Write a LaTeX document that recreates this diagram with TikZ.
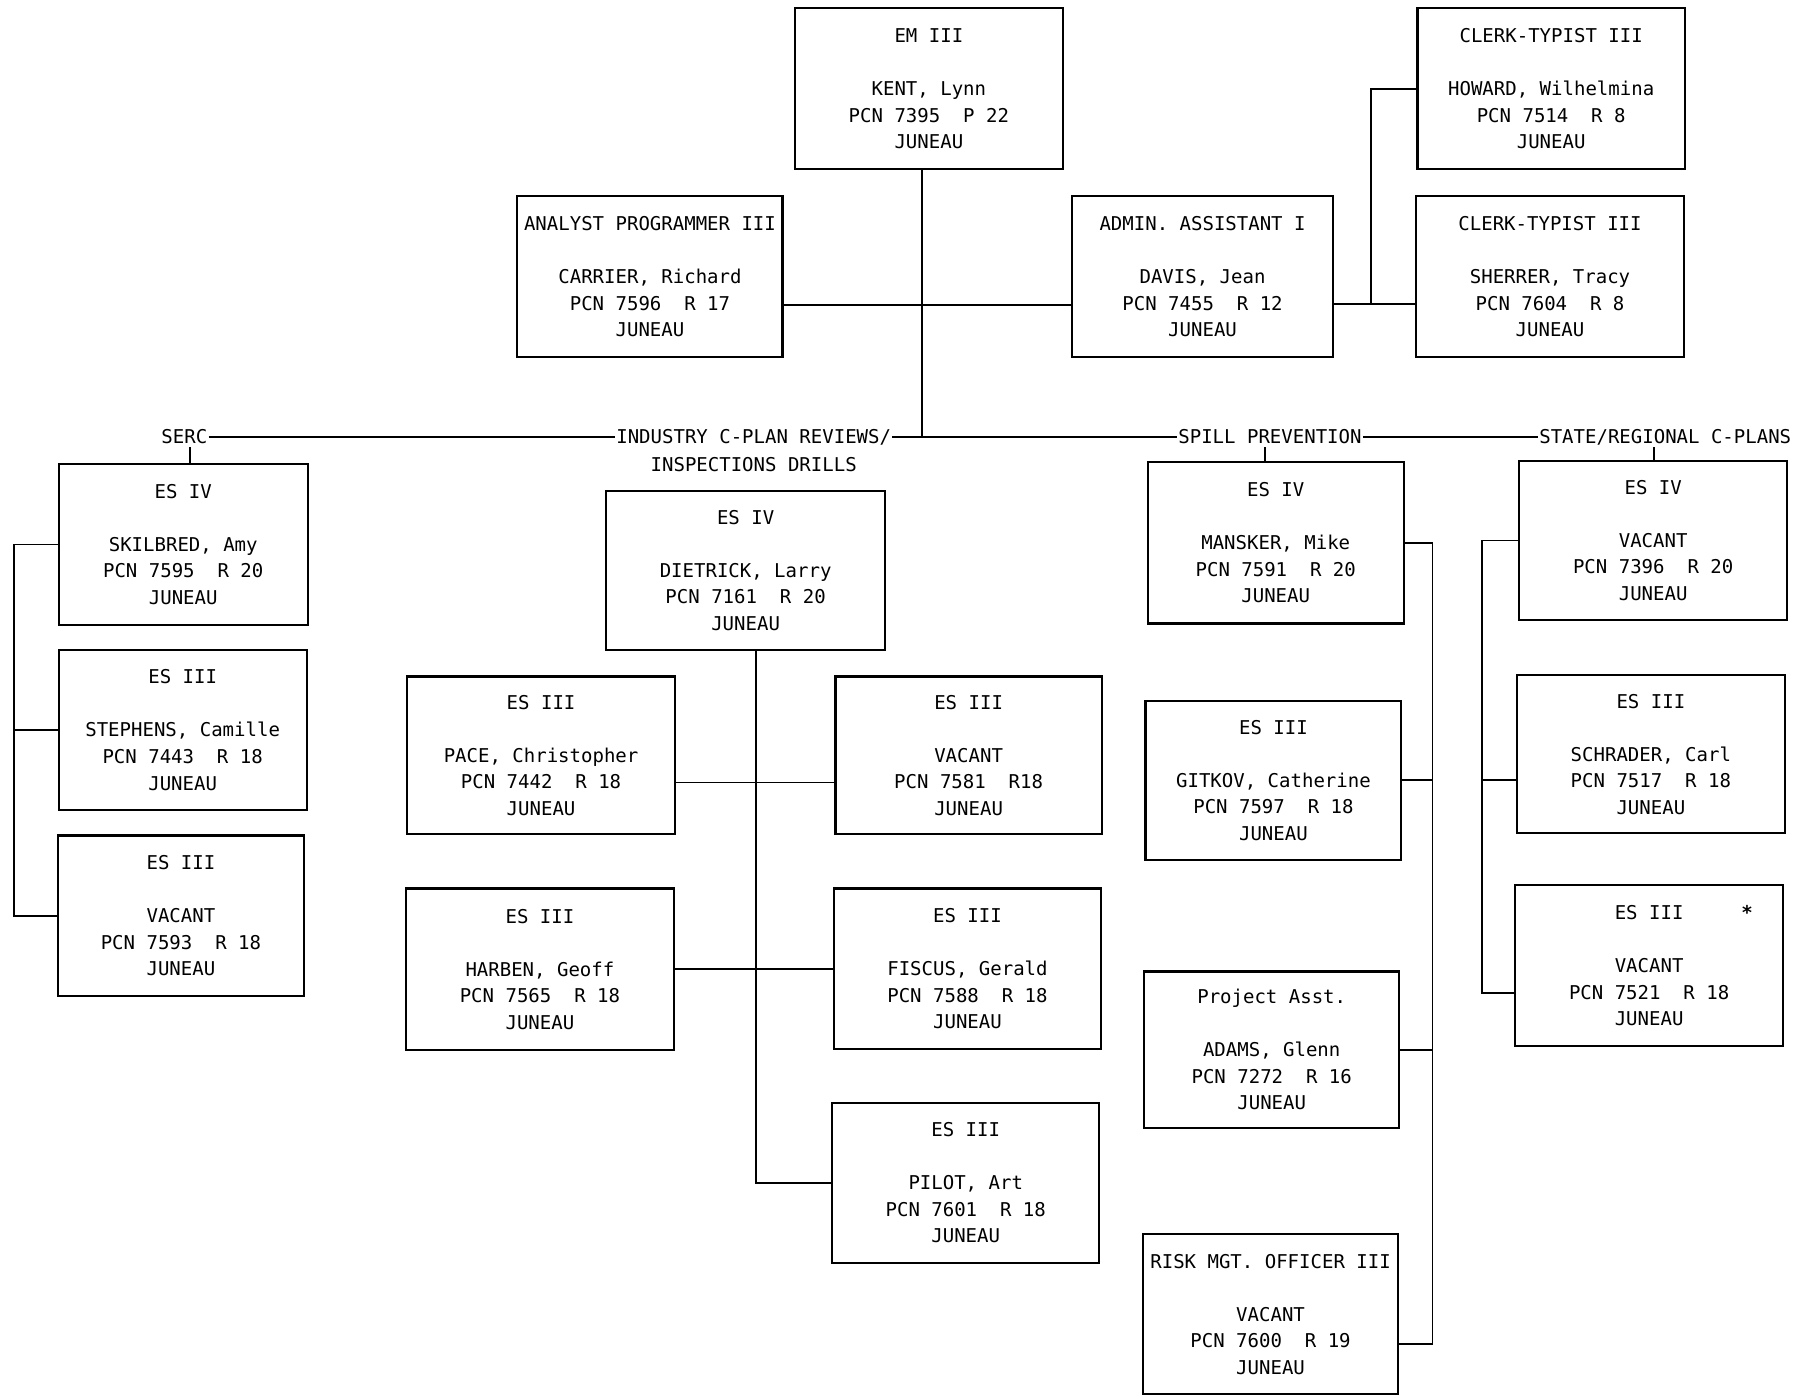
\documentclass[tikz,border=0pt]{standalone}
\usepackage{fontspec}
\setmainfont{DejaVu Sans Mono}
\begin{document}
\begin{tikzpicture}[x=1pt,y=-1pt,
  box/.style={draw, line width=1.8pt, inner sep=0pt, align=center, font=\fontsize{16.5}{23}\selectfont},
  lbl/.style={inner sep=1pt, font=\fontsize{16.5}{23}\selectfont, text height=12pt, text depth=0pt},
  conn/.style={line width=1.6pt}]
\useasboundingbox[fill=white] (0,0) rectangle (1568,1212);

% top
\node[box, minimum width=232, minimum height=140] (em)  at (806,77)   {EM III\\[23pt]KENT, Lynn\\PCN 7395~~P 22\\JUNEAU};
\node[box, minimum width=230, minimum height=140] (ana) at (564,240)  {ANALYST PROGRAMMER III\\[23pt]CARRIER, Richard\\PCN 7596~~R 17\\JUNEAU};
\node[box, minimum width=227, minimum height=140] (adm) at (1043.5,240) {ADMIN. ASSISTANT I\\[23pt]DAVIS, Jean\\PCN 7455~~R 12\\JUNEAU};
\node[box, minimum width=232, minimum height=140] (how) at (1346,77)  {CLERK-TYPIST III\\[23pt]HOWARD, Wilhelmina\\PCN 7514~~R 8\\JUNEAU};
\node[box, minimum width=232, minimum height=140] (she) at (1345,240) {CLERK-TYPIST III\\[23pt]SHERRER, Tracy\\PCN 7604~~R 8\\JUNEAU};

% SERC
\node[box, minimum width=216, minimum height=139] (ski) at (159,472.5) {ES IV\\[23pt]SKILBRED, Amy\\PCN 7595~~R 20\\JUNEAU};
\node[box, minimum width=215, minimum height=139] (ste) at (158.5,633.5) {ES III\\[23pt]STEPHENS, Camille\\PCN 7443~~R 18\\JUNEAU};
\node[box, minimum width=214, minimum height=139] (v93) at (157,794.5) {ES III\\[23pt]VACANT\\PCN 7593~~R 18\\JUNEAU};

% Industry
\node[box, minimum width=242, minimum height=138] (die) at (647,495) {ES IV\\[23pt]DIETRICK, Larry\\PCN 7161~~R 20\\JUNEAU};
\node[box, minimum width=233, minimum height=137] (pac) at (469.5,655.5) {ES III\\[23pt]PACE, Christopher\\PCN 7442~~R 18\\JUNEAU};
\node[box, minimum width=231, minimum height=137] (v81) at (840.5,655.5) {ES III\\[23pt]VACANT\\PCN 7581~~R18\\JUNEAU};
\node[box, minimum width=233, minimum height=140] (har) at (468.5,841) {ES III\\[23pt]HARBEN, Geoff\\PCN 7565~~R 18\\JUNEAU};
\node[box, minimum width=231, minimum height=139] (fis) at (839.5,840.5) {ES III\\[23pt]FISCUS, Gerald\\PCN 7588~~R 18\\JUNEAU};
\node[box, minimum width=232, minimum height=139] (pil) at (838,1026.5) {ES III\\[23pt]PILOT, Art\\PCN 7601~~R 18\\JUNEAU};

% Spill
\node[box, minimum width=222, minimum height=140] (man) at (1107,471) {ES IV\\[23pt]MANSKER, Mike\\PCN 7591~~R 20\\JUNEAU};
\node[box, minimum width=222, minimum height=138] (git) at (1105,677) {ES III\\[23pt]GITKOV, Catherine\\PCN 7597~~R 18\\JUNEAU};
\node[box, minimum width=221, minimum height=136] (ada) at (1103.5,911) {Project Asst.\\[23pt]ADAMS, Glenn\\PCN 7272~~R 16\\JUNEAU};
\node[box, minimum width=221, minimum height=139] (ris) at (1102.5,1140.5) {RISK MGT. OFFICER III\\[23pt]VACANT\\PCN 7600~~R 19\\JUNEAU};

% State
\node[box, minimum width=233, minimum height=138] (v96) at (1434.5,469) {ES IV\\[23pt]VACANT\\PCN 7396~~R 20\\JUNEAU};
\node[box, minimum width=233, minimum height=137] (sch) at (1432.5,654.5) {ES III\\[23pt]SCHRADER, Carl\\PCN 7517~~R 18\\JUNEAU};
\node[box, minimum width=232, minimum height=140] (v21) at (1431,838) {ES III\\[23pt]VACANT\\PCN 7521~~R 18\\JUNEAU};
\node[inner sep=0pt, font=\fontsize{16.5}{23}\selectfont\bfseries] (ast) at (1516,792) {*};

% labels on the bar
\node[lbl] (serc) at (160,379) {SERC};
\node[lbl] (ind)  at (654,379) {INDUSTRY C-PLAN REVIEWS/};
\node[lbl] (ind2) at (654,403) {INSPECTIONS DRILLS};
\node[lbl] (spl)  at (1102,379) {SPILL PREVENTION};
\node[lbl] (sta)  at (1445,379) {STATE/REGIONAL C-PLANS};

% bar
\coordinate (hub) at (800,379);
\draw[conn] (serc.east) -- (ind.west);
\draw[conn] (ind.east) -- (spl.west);
\draw[conn] (spl.east) -- (sta.west);
\draw[conn] (em.south -| hub) -- (hub);

% ticks
\coordinate (t1) at (165,388);
\coordinate (t3) at (1098,388);
\coordinate (t4) at (1435,388);
\draw[conn] (t1) -- (t1 |- ski.north);
\draw[conn] (t3) -- (t3 |- man.north);
\draw[conn] (t4) -- (t4 |- v96.north);

% staff
\coordinate (r1) at (0,265);
\draw[conn] (ana.east |- r1) -- (adm.west |- r1);
\coordinate (cx) at (1190,264);
\draw[conn] (adm.east |- cx) -- (she.west |- cx);
\draw[conn] (cx) |- (how.west);

% SERC bracket
\coordinate (sb) at (12,0);
\draw[conn] (ski.west) -- (ski.west -| sb) |- (v93.west);
\draw[conn] (ste.west) -- (ste.west -| sb);

% Industry tree
\coordinate (db) at (656,0);
\draw[conn] (die.south -| db) |- (pil.west);
\coordinate (r2) at (0,679);
\draw[conn] (pac.east |- r2) -- (v81.west |- r2);
\coordinate (r4) at (0,841);
\draw[conn] (har.east |- r4) -- (fis.west |- r4);

% Spill bracket
\coordinate (sp) at (1243,1166);
\draw[conn] (man.east) -| (sp) -- (sp -| ris.east);
\draw[conn] (git.east) -- (git.east -| sp);
\draw[conn] (ada.east) -- (ada.east -| sp);

% State bracket
\coordinate (st) at (1286,862);
\draw[conn] (v96.west) -| (st) -- (st -| v21.west);
\coordinate (r3) at (0,677);
\draw[conn] (sch.west |- r3) -- (st |- r3);
\end{tikzpicture}
\end{document}
